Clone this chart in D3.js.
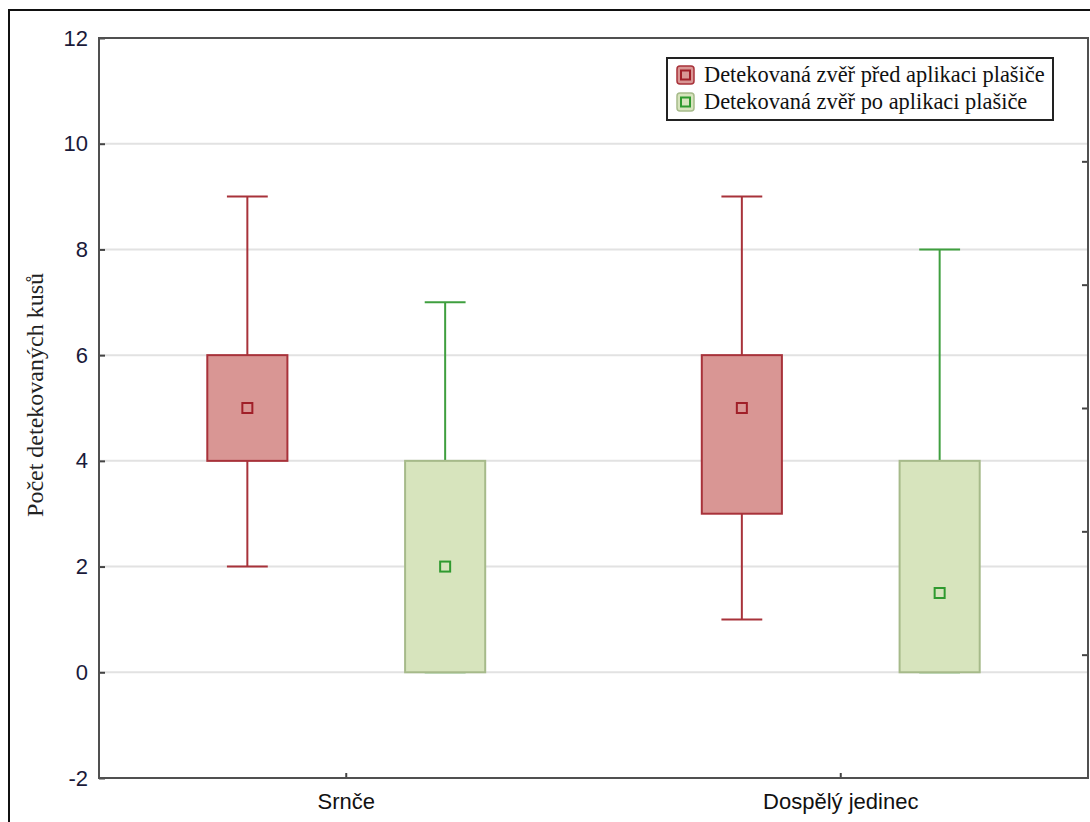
<!DOCTYPE html>
<html>
<head>
<meta charset="utf-8">
<script src="https://cdn.jsdelivr.net/npm/d3@7/dist/d3.min.js"></script>
<style>
  html, body { margin: 0; padding: 0; background: #fff; }
  svg { display: block; }
</style>
</head>
<body>
<svg id="chart" width="1090" height="822"></svg>
<script>
// Categories and the two series (before / after the deterrent was installed)
const categories = ["Srnče", "Dospělý jedinec"];
const seriesNames = ["Detekovaná zvěř před aplikaci plašiče", "Detekovaná zvěř po aplikaci plašiče"];

// Box plot summaries per category, one array per statistic and series
const beforeMin    = [2, 1];
const beforeQ1     = [4, 3];
const beforeMedian = [5, 5];
const beforeQ3     = [6, 6];
const beforeMax    = [9, 9];

const afterMin    = [0, 0];
const afterQ1     = [0, 0];
const afterMedian = [2, 1.5];
const afterQ3     = [4, 4];
const afterMax    = [7, 8];

const yTicks = [-2, 0, 2, 4, 6, 8, 10, 12];
const gridTicks = [0, 2, 4, 6, 8, 10];
const rightTicks = [1, 2, 3, 4, 5];

const styles = [
  { fill: "#d99694", stroke: "#a8323a", whisker: "#a8323a", marker: "#a01f28" },
  { fill: "#d7e4bd", stroke: "#a6ba8a", whisker: "#3f9f3f", marker: "#2f9a2f" }
];

const seriesData = [
  { name: seriesNames[0], min: beforeMin, q1: beforeQ1, med: beforeMedian, q3: beforeQ3, max: beforeMax },
  { name: seriesNames[1], min: afterMin, q1: afterQ1, med: afterMedian, q3: afterQ3, max: afterMax }
];

const svg = d3.select("#chart");
const plot = { left: 99, right: 1088, top: 38, bottom: 778 };

// Outer frame
svg.append("rect")
  .attr("x", 9).attr("y", 10)
  .attr("width", 1100).attr("height", 830)
  .attr("fill", "#fff").attr("stroke", "#111").attr("stroke-width", 2);

const y = d3.scaleLinear().domain([-2, 12]).range([plot.bottom, plot.top]);
const yRight = d3.scaleLinear().domain([0, 6]).range([plot.bottom, plot.top]);
const x0 = d3.scaleBand().domain(categories).range([plot.left, plot.right]).padding(0);
const x1 = d3.scalePoint().domain(seriesNames).range([0, x0.bandwidth()]).padding(0.75);
const boxW = x0.bandwidth() * 0.162;
const capW = boxW * 0.51;

// Grid
svg.append("g").selectAll("line").data(gridTicks).join("line")
  .attr("x1", plot.left).attr("x2", plot.right)
  .attr("y1", d => y(d)).attr("y2", d => y(d))
  .attr("stroke", "#e2e2e2").attr("stroke-width", 2);

// Left axis: labels outside, ticks pointing inward
const yAxis = svg.append("g").attr("transform", `translate(${plot.left},0)`)
  .call(d3.axisLeft(y).tickValues(yTicks).tickSize(-6).tickPadding(11).tickFormat(d => String(d)));
yAxis.select(".domain").remove();
yAxis.selectAll(".tick line").attr("stroke", "#444").attr("stroke-width", 2);
yAxis.selectAll(".tick text")
  .attr("font-family", "Liberation Sans, Arial, sans-serif")
  .attr("font-size", 22).attr("fill", "#1a1a3a");

// Right axis: unlabeled inward ticks
const yAxisR = svg.append("g").attr("transform", `translate(${plot.right},0)`)
  .call(d3.axisRight(yRight).tickValues(rightTicks).tickSize(-6).tickFormat(""));
yAxisR.select(".domain").remove();
yAxisR.selectAll(".tick line").attr("stroke", "#444").attr("stroke-width", 2);

// Bottom axis
const xAxis = svg.append("g").attr("transform", `translate(0,${plot.bottom})`)
  .call(d3.axisBottom(x0).tickSize(-5).tickPadding(15));
xAxis.select(".domain").remove();
xAxis.selectAll(".tick line").attr("stroke", "#444").attr("stroke-width", 2);
xAxis.selectAll(".tick text")
  .attr("font-family", "Liberation Sans, Arial, sans-serif")
  .attr("font-size", 22).attr("fill", "#111");

// Boxes
seriesData.forEach((s, si) => {
  const st = styles[si];
  const g = svg.append("g");
  categories.forEach((c, ci) => {
    const cx = x0(c) + x1(s.name);
    // whiskers
    g.append("line")
      .attr("x1", cx).attr("x2", cx)
      .attr("y1", y(s.max[ci])).attr("y2", y(s.q3[ci]))
      .attr("stroke", st.whisker).attr("stroke-width", 2);
    g.append("line")
      .attr("x1", cx).attr("x2", cx)
      .attr("y1", y(s.q1[ci])).attr("y2", y(s.min[ci]))
      .attr("stroke", st.whisker).attr("stroke-width", 2);
    g.append("line")
      .attr("x1", cx - capW / 2).attr("x2", cx + capW / 2)
      .attr("y1", y(s.max[ci])).attr("y2", y(s.max[ci]))
      .attr("stroke", st.whisker).attr("stroke-width", 2);
    g.append("line")
      .attr("x1", cx - capW / 2).attr("x2", cx + capW / 2)
      .attr("y1", y(s.min[ci])).attr("y2", y(s.min[ci]))
      .attr("stroke", st.whisker).attr("stroke-width", 2);
    // box
    g.append("rect")
      .attr("x", cx - boxW / 2).attr("width", boxW)
      .attr("y", y(s.q3[ci])).attr("height", y(s.q1[ci]) - y(s.q3[ci]))
      .attr("fill", st.fill).attr("stroke", st.stroke).attr("stroke-width", 2);
    // median marker
    g.append("rect")
      .attr("x", cx - 5).attr("y", y(s.med[ci]) - 5)
      .attr("width", 10).attr("height", 10)
      .attr("fill", st.fill).attr("stroke", st.marker).attr("stroke-width", 2);
  });
});

// Plot frame
svg.append("rect")
  .attr("x", plot.left).attr("y", plot.top)
  .attr("width", plot.right - plot.left).attr("height", plot.bottom - plot.top)
  .attr("fill", "none").attr("stroke", "#505050").attr("stroke-width", 2);

// Y axis title
svg.append("text")
  .attr("transform", `translate(43,395) rotate(-90)`)
  .attr("text-anchor", "middle")
  .attr("font-family", "Liberation Serif, Times New Roman, serif")
  .attr("font-size", 24).attr("fill", "#222")
  .text("Počet detekovaných kusů");

// Legend
const legend = svg.append("g").attr("transform", "translate(667,58)");
legend.append("rect")
  .attr("width", 386).attr("height", 62)
  .attr("fill", "#fff").attr("stroke", "#222").attr("stroke-width", 2);
const rows = legend.selectAll("g.row").data(seriesNames).join("g")
  .attr("class", "row")
  .attr("transform", (d, i) => `translate(10,${17 + i * 27})`);
rows.append("rect")
  .attr("x", 0).attr("y", -9).attr("width", 17).attr("height", 18).attr("rx", 3)
  .attr("fill", (d, i) => styles[i].fill)
  .attr("stroke", (d, i) => styles[i].stroke).attr("stroke-width", 1.5);
rows.append("rect")
  .attr("x", 4).attr("y", -4.5).attr("width", 9).attr("height", 9)
  .attr("fill", (d, i) => styles[i].fill)
  .attr("stroke", (d, i) => styles[i].marker).attr("stroke-width", 2);
rows.append("text")
  .attr("x", 27).attr("y", 7)
  .attr("font-family", "Liberation Serif, Times New Roman, serif")
  .attr("font-size", 22.4).attr("fill", "#111")
  .text(d => d);
</script>
</body>
</html>
